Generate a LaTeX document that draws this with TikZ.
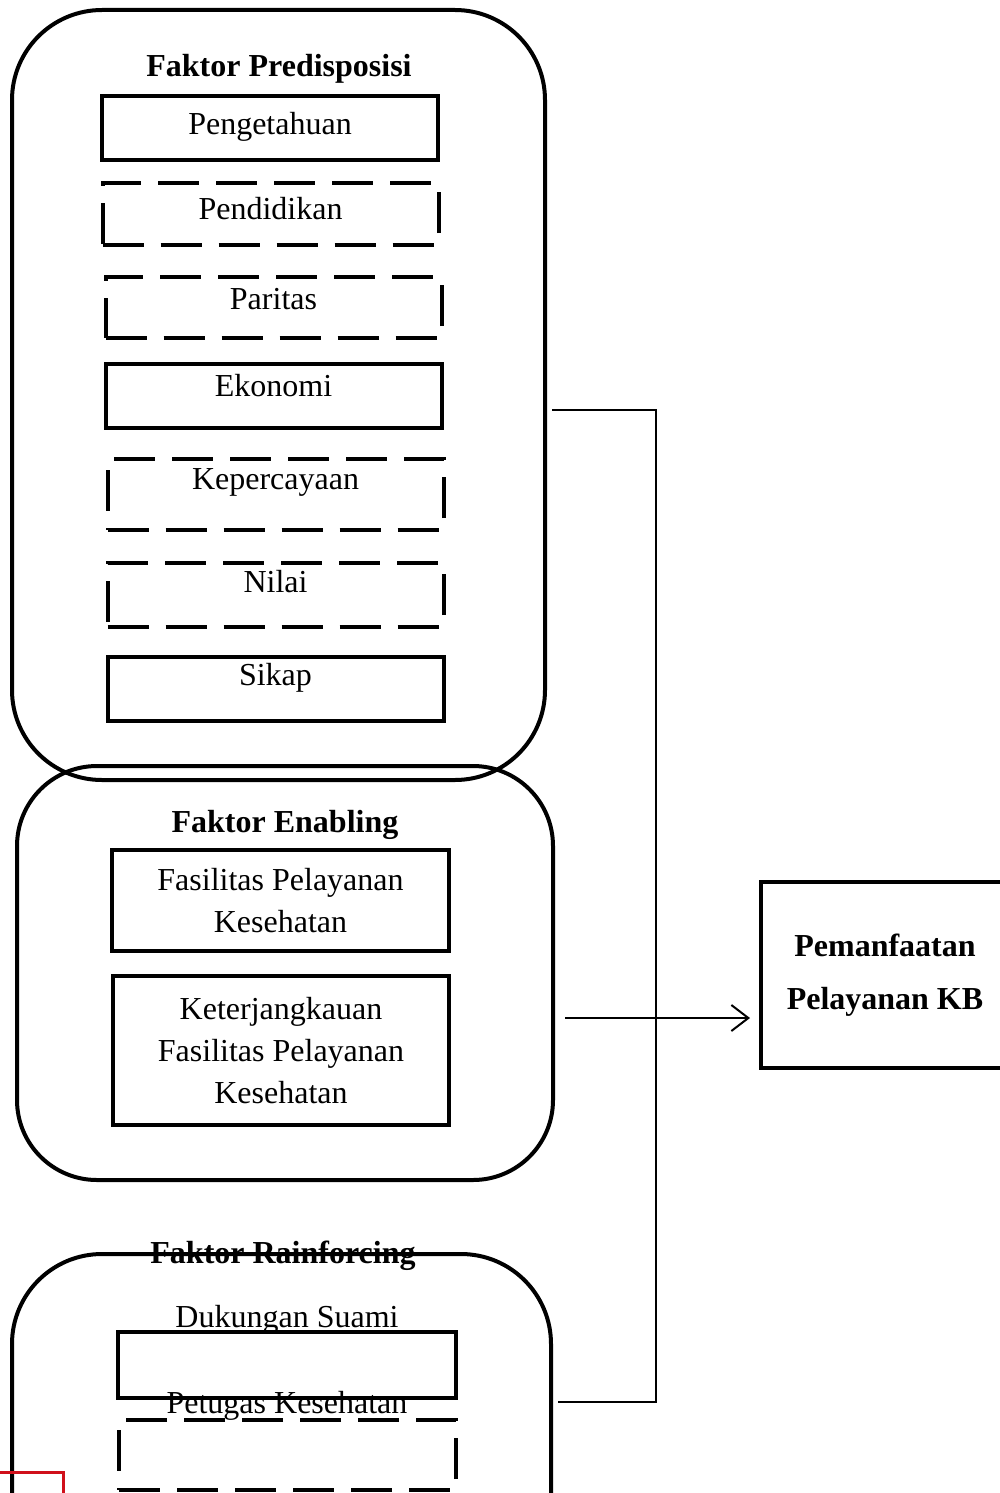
\documentclass[tikz,border=0pt]{standalone}
\usepackage{fontspec}
\setmainfont{Liberation Serif}
\usepackage{tikz}
\usetikzlibrary{arrows.meta}
\definecolor{markCol}{HTML}{D0101B}

\begin{document}
\begin{tikzpicture}[x=1pt, y=-1pt,
    every node/.style={font=\fontsize{32}{42}\selectfont},
    grpbox/.style={line width=4pt, rounded corners=90pt},
    solidbox/.style={draw, line width=4pt, minimum width=336pt, inner sep=0pt},
    dashbox/.style={solidbox, dash pattern=on 41pt off 17pt},
    grptitle/.style={font=\bfseries\fontsize{32}{42}\selectfont, anchor=base},
    link/.style={line width=2pt}]
  \clip (0,0) rectangle (1000,1493);

  \draw[grpbox] (12,10) rectangle (545,780);
  \node[grptitle] (preTitle) at (279,77) {Faktor Predisposisi};
  \foreach \txt/\cx/\cy/\h/\by/\sty [count=\i] in {
    Pengetahuan/270/128/64/135/solidbox,
    Pendidikan/270.5/214/62/219/dashbox,
    Paritas/273.5/307.5/61/309/dashbox,
    Ekonomi/273.5/396/64/396/solidbox,
    Kepercayaan/275.5/494.5/71/489/dashbox,
    Nilai/275.5/595/64/592/dashbox,
    Sikap/275.5/689/64/685/solidbox}{
    \node[\sty, minimum height=\h] (pre\i) at (\cx,\cy) {};
    \node[anchor=base] (pre\i txt) at (\cx,\by) {\txt};
  }

  \draw[grpbox, rounded corners=80pt] (17,766) rectangle (553,1180);
  \node[grptitle] (enbTitle) at (285,832) {Faktor Enabling};
  \node[solidbox, minimum width=337, minimum height=101, align=center] (enb1)
    at (280.5,900.5) {Fasilitas Pelayanan\\Kesehatan};
  \node[solidbox, minimum height=149, align=center] (enb2)
    at (281,1050.5) {Keterjangkauan\\Fasilitas Pelayanan\\Kesehatan};

  \draw[grpbox] (12,1254) rectangle (551,1720);
  \node[grptitle] (rnfTitle) at (283,1263) {Faktor Rainforcing};
  \node[anchor=base] (rnf1txt) at (287,1327) {Dukungan Suami};
  \node[solidbox, minimum width=338, minimum height=66] (rnf1) at (287,1365) {};
  \node[anchor=base] (rnf2txt) at (287,1413) {Petugas Kesehatan};
  \node[dashbox, minimum width=337, minimum height=70] (rnf2) at (287.5,1455) {};

  \node[draw, line width=4pt, minimum width=248, minimum height=186, align=center,
    font=\bfseries\fontsize{32}{53}\selectfont] (kb) at (885,975) {Pemanfaatan\\Pelayanan KB};

  \coordinate (preOut) at (552,410);
  \coordinate (enbOut) at (565,1018);
  \coordinate (rnfOut) at (558,1402);
  \coordinate (busTop) at (656,410);
  \coordinate (busBot) at (656,1402);
  \draw[link] (preOut) -- (busTop) -- (busBot) -- (rnfOut);
  \draw[link, -{Straight Barb[length=17pt, width=26pt]}, shorten >=9pt]
    (enbOut) -- (enbOut -| kb.west);

  \draw[markCol, line width=3pt] (-10,1472) rectangle (63,1530);
\end{tikzpicture}
\end{document}
